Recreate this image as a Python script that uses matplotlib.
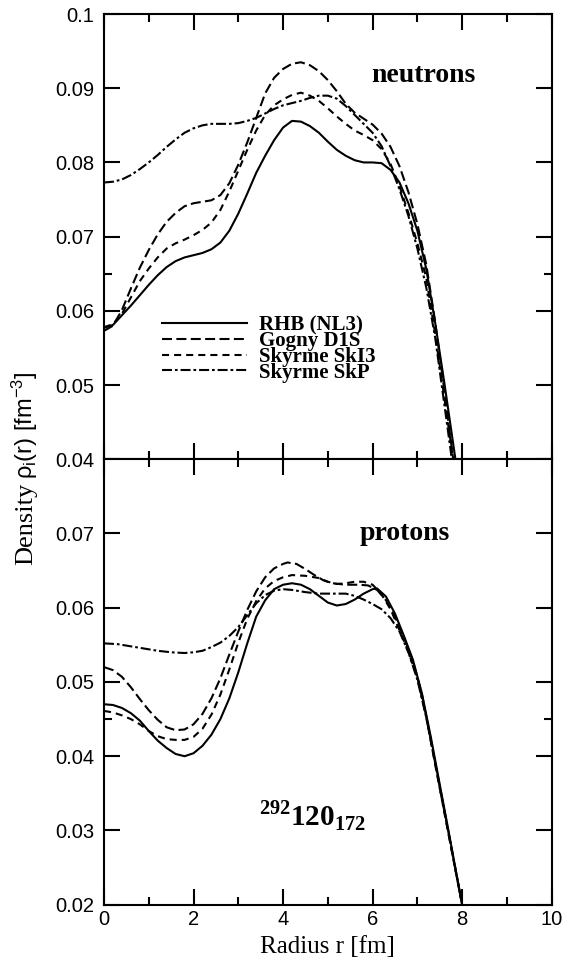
import matplotlib
matplotlib.use('Agg')
import matplotlib.pyplot as plt
from matplotlib.ticker import FuncFormatter

# ---------------- data ----------------
models = ['RHB (NL3)', 'Gogny D1S', 'Skyrme SkI3', 'Skyrme SkP']

# neutrons
r_rhb_n = [0.0, 0.2, 0.4, 0.6, 0.8, 1.0, 1.2, 1.4, 1.6, 1.8, 2.0, 2.2, 2.4, 2.6, 2.8, 3.0, 3.2, 3.4,
           3.6, 3.8, 4.0, 4.2, 4.4, 4.6, 4.8, 5.0, 5.2, 5.4, 5.6, 5.8, 6.0, 6.2, 6.4, 6.6, 6.8, 7.0,
           7.2, 7.4, 7.6, 7.85]
rho_rhb_n = [0.0577, 0.0581, 0.0594, 0.0607, 0.0621, 0.0635, 0.0648, 0.0659, 0.0667, 0.0672, 0.0675,
             0.0678, 0.0683, 0.0692, 0.0708, 0.0731, 0.0758, 0.0786, 0.0809, 0.0830, 0.0847, 0.0856,
             0.0855, 0.0849, 0.0840, 0.0828, 0.0817, 0.0809, 0.0803, 0.0800, 0.0800, 0.0799, 0.0790,
             0.0773, 0.0745, 0.0708, 0.0656, 0.0583, 0.0504, 0.0400]

r_gog_n = [0.0, 0.2, 0.4, 0.6, 0.8, 1.0, 1.2, 1.4, 1.6, 1.8, 2.0, 2.2, 2.4, 2.6, 2.8, 3.0, 3.2, 3.4,
           3.6, 3.8, 4.0, 4.2, 4.4, 4.6, 4.8, 5.0, 5.2, 5.4, 5.6, 5.8, 6.0, 6.2, 6.4, 6.6, 6.8, 7.0,
           7.2, 7.4, 7.6, 7.8]
rho_gog_n = [0.0573, 0.0580, 0.0601, 0.0630, 0.0658, 0.0682, 0.0703, 0.0720, 0.0732, 0.0741, 0.0745,
             0.0747, 0.0749, 0.0756, 0.0772, 0.0797, 0.0827, 0.0860, 0.0893, 0.0914, 0.0926, 0.0933,
             0.0935, 0.0931, 0.0923, 0.0911, 0.0896, 0.0879, 0.0867, 0.0859, 0.0851, 0.0839, 0.0821,
             0.0795, 0.0760, 0.0717, 0.0662, 0.0584, 0.0494, 0.0400]

r_ski_n = [0.0, 0.2, 0.4, 0.6, 0.8, 1.0, 1.2, 1.4, 1.6, 1.8, 2.0, 2.2, 2.4, 2.6, 2.8, 3.0, 3.2, 3.4,
           3.6, 3.8, 4.0, 4.2, 4.4, 4.6, 4.8, 5.0, 5.2, 5.4, 5.6, 5.8, 6.0, 6.2, 6.4, 6.6, 6.8, 7.0,
           7.2, 7.4, 7.6, 7.8]
rho_ski_n = [0.0578, 0.0582, 0.0596, 0.0618, 0.0640, 0.0657, 0.0672, 0.0684, 0.0691, 0.0696, 0.0702,
             0.0709, 0.0719, 0.0736, 0.0761, 0.0789, 0.0817, 0.0843, 0.0864, 0.0877, 0.0885, 0.0891,
             0.0894, 0.0890, 0.0883, 0.0873, 0.0862, 0.0852, 0.0843, 0.0837, 0.0830, 0.0818, 0.0798,
             0.0768, 0.0732, 0.0691, 0.0644, 0.0568, 0.0484, 0.0400]

r_skp_n = [0.0, 0.2, 0.4, 0.6, 0.8, 1.0, 1.2, 1.4, 1.6, 1.8, 2.0, 2.2, 2.4, 2.6, 2.8, 3.0, 3.2, 3.4,
           3.6, 3.8, 4.0, 4.2, 4.4, 4.6, 4.8, 5.0, 5.2, 5.4, 5.6, 5.8, 6.0, 6.2, 6.4, 6.6, 6.8, 7.0,
           7.2, 7.4, 7.6, 7.77]
rho_skp_n = [0.0773, 0.0774, 0.0777, 0.0783, 0.0791, 0.0800, 0.0810, 0.0821, 0.0831, 0.0840, 0.0846,
             0.0850, 0.0852, 0.0852, 0.0852, 0.0853, 0.0856, 0.0860, 0.0866, 0.0872, 0.0877, 0.0880,
             0.0883, 0.0887, 0.0890, 0.0890, 0.0886, 0.0876, 0.0864, 0.0852, 0.0840, 0.0822, 0.0795,
             0.0764, 0.0728, 0.0684, 0.0631, 0.0563, 0.0475, 0.0400]

# protons
r_rhb_p = [0.0, 0.2, 0.4, 0.6, 0.8, 1.0, 1.2, 1.4, 1.6, 1.8, 2.0, 2.2, 2.4, 2.6, 2.8, 3.0, 3.2, 3.4,
           3.6, 3.8, 4.0, 4.2, 4.4, 4.6, 4.8, 5.0, 5.2, 5.4, 5.6, 5.8, 6.0, 6.1, 6.3, 6.5, 6.7, 6.9,
           7.1, 7.3, 7.5, 7.7, 8.0]
rho_rhb_p = [0.0470, 0.0469, 0.0465, 0.0458, 0.0448, 0.0434, 0.0421, 0.0411, 0.0403, 0.0400, 0.0404,
             0.0414, 0.0429, 0.0450, 0.0478, 0.0513, 0.0552, 0.0588, 0.0610, 0.0625, 0.0631, 0.0633,
             0.0631, 0.0625, 0.0616, 0.0607, 0.0603, 0.0605, 0.0611, 0.0619, 0.0625, 0.0626, 0.0615,
             0.0592, 0.0562, 0.0530, 0.0485, 0.0426, 0.0362, 0.0298, 0.0200]

r_gog_p = [0.0, 0.2, 0.4, 0.6, 0.8, 1.0, 1.2, 1.4, 1.6, 1.8, 2.0, 2.2, 2.4, 2.6, 2.8, 3.0, 3.2, 3.4,
           3.6, 3.8, 4.0, 4.1, 4.3, 4.5, 4.7, 4.9, 5.1, 5.4, 5.7, 5.9, 6.1, 6.3, 6.5, 6.7, 6.9, 7.1,
           7.3, 7.5, 7.7, 8.0]
rho_gog_p = [0.0520, 0.0516, 0.0507, 0.0493, 0.0477, 0.0462, 0.0449, 0.0439, 0.0435, 0.0436, 0.0443,
             0.0457, 0.0478, 0.0505, 0.0537, 0.0568, 0.0597, 0.0622, 0.0641, 0.0653, 0.0659, 0.0661,
             0.0659, 0.0652, 0.0644, 0.0637, 0.0633, 0.0631, 0.0631, 0.0630, 0.0624, 0.0610, 0.0588,
             0.0560, 0.0528, 0.0484, 0.0422, 0.0358, 0.0295, 0.0200]

r_ski_p = [0.0, 0.2, 0.4, 0.6, 0.8, 1.0, 1.2, 1.4, 1.6, 1.8, 2.0, 2.2, 2.4, 2.6, 2.8, 3.0, 3.2, 3.4,
           3.6, 3.8, 4.0, 4.2, 4.5, 4.8, 5.0, 5.2, 5.4, 5.6, 5.8, 6.0, 6.2, 6.4, 6.6, 6.8, 7.0, 7.2,
           7.4, 7.6, 7.8, 8.0]
rho_ski_p = [0.0461, 0.0459, 0.0455, 0.0450, 0.0443, 0.0434, 0.0427, 0.0423, 0.0422, 0.0422, 0.0426,
             0.0437, 0.0456, 0.0483, 0.0517, 0.0553, 0.0585, 0.0609, 0.0626, 0.0636, 0.0641, 0.0644,
             0.0643, 0.0640, 0.0635, 0.0632, 0.0633, 0.0635, 0.0635, 0.0631, 0.0618, 0.0598, 0.0570,
             0.0540, 0.0506, 0.0452, 0.0388, 0.0325, 0.0262, 0.0200]

r_skp_p = [0.0, 0.3, 0.6, 0.9, 1.2, 1.5, 1.8, 2.0, 2.2, 2.4, 2.6, 2.8, 3.0, 3.2, 3.4, 3.6, 3.8, 4.0,
           4.2, 4.5, 4.8, 5.1, 5.4, 5.6, 5.8, 6.0, 6.2, 6.4, 6.6, 6.8, 7.0, 7.2, 7.4, 7.6, 7.8, 8.0]
rho_skp_p = [0.0552, 0.0551, 0.0548, 0.0545, 0.0542, 0.0540, 0.0539, 0.0540, 0.0542, 0.0547, 0.0553,
             0.0562, 0.0574, 0.0590, 0.0606, 0.0617, 0.0623, 0.0625, 0.0624, 0.0621, 0.0619, 0.0619,
             0.0619, 0.0616, 0.0611, 0.0605, 0.0598, 0.0586, 0.0568, 0.0540, 0.0503, 0.0452, 0.0390,
             0.0328, 0.0264, 0.0200]

x_ticks = [0, 2, 4, 6, 8, 10]
x_minor = [1, 3, 5, 7, 9]
yn_ticks = [0.04, 0.05, 0.06, 0.07, 0.08, 0.09, 0.1]
yn_minor = [0.065]
yp_ticks = [0.02, 0.03, 0.04, 0.05, 0.06, 0.07]
yp_minor = [0.045]

neutron_series = [(r_rhb_n, rho_rhb_n), (r_gog_n, rho_gog_n), (r_ski_n, rho_ski_n), (r_skp_n, rho_skp_n)]
proton_series = [(r_rhb_p, rho_rhb_p), (r_gog_p, rho_gog_p), (r_ski_p, rho_ski_p), (r_skp_p, rho_skp_p)]

# ---------------- style ----------------
plt.rcParams['font.family'] = ['Liberation Sans', 'DejaVu Sans']
plt.rcParams['mathtext.fontset'] = 'custom'
plt.rcParams['mathtext.rm'] = 'Liberation Sans'
plt.rcParams['mathtext.it'] = 'Liberation Sans:italic'
plt.rcParams['mathtext.bf'] = 'Liberation Serif:bold'

line_styles = ['-', (0, (4.8, 2.1)), (0, (3.4, 2.4)), (0, (4.8, 1.4, 1.3, 1.4))]
LW = 1.5

fig = plt.figure(figsize=(5.63, 9.61), dpi=100)
L, R = 0.1847, 0.9799
ymid, ytop, ybot = 0.5221, 0.9854, 0.0586
axn = fig.add_axes([L, ymid, R - L, ytop - ymid])
axp = fig.add_axes([L, ybot, R - L, ymid - ybot])

fmt = FuncFormatter(lambda v, p: f'{v:g}')

for ax, series, yt, ym, ylim in [(axn, neutron_series, yn_ticks, yn_minor, (0.04, 0.1)),
                                 (axp, proton_series, yp_ticks, yp_minor, (0.02, 0.08))]:
    for (xs, ys), ls, lab in zip(series, line_styles, models):
        ax.plot(xs, ys, color='black', lw=LW, linestyle=ls, label=lab)
    ax.set_xlim(0, 10)
    ax.set_ylim(*ylim)
    ax.set_xticks(x_ticks)
    ax.set_xticks(x_minor, minor=True)
    ax.set_yticks(yt)
    ax.set_yticks(ym, minor=True)
    ax.yaxis.set_major_formatter(fmt)
    ax.tick_params(which='both', direction='in', top=True, right=True, width=1.5, colors='black')
    ax.tick_params(which='major', length=11.5, labelsize=14.5, pad=7)
    ax.tick_params(which='minor', length=6)
    ax.tick_params(axis='x', which='major', pad=4)
    for s in ax.spines.values():
        s.set_linewidth(1.5)

axn.tick_params(labelbottom=False)

axn.legend(loc='center left', bbox_to_anchor=(0.1289, 0.2477), frameon=False,
           borderpad=0, borderaxespad=0, handlelength=4.1, handletextpad=0.57,
           labelspacing=-0.2,
           prop=dict(family='Liberation Serif', weight='bold', size=15))

serif = ['Liberation Serif', 'DejaVu Serif']
axn.text(5.98, 0.0909, 'neutrons', family=serif, weight='bold', size=20, ha='left', va='baseline')
axp.text(5.72, 0.0691, 'protons', family=serif, weight='bold', size=20, ha='left', va='baseline')
axp.text(3.47, 0.0307, r'${}^{\mathbf{292}}\mathbf{120}_{\mathbf{172}}$', size=21,
         ha='left', va='baseline')

axp.set_xlabel('Radius r [fm]', family=serif, size=18, labelpad=5)

# y label: serif "Density" followed by sans "rho_i(r) [fm^-3]"
x0 = 0.058
t1 = fig.text(x0, 1 - 565 / 961, 'Density', family=serif, size=19, rotation=90,
              rotation_mode='anchor', ha='left', va='baseline')
fig.canvas.draw()
bb = t1.get_window_extent()
ytop_t1 = bb.y1 / fig.bbox.height
fig.text(x0, ytop_t1 + 4 / 961, r'ρ$_\mathrm{i}$(r) [fm$^{-3}$]', family=['Liberation Sans', 'DejaVu Sans'],
         size=17, rotation=90, rotation_mode='anchor', ha='left', va='baseline')

fig.savefig('out.png', dpi=100)
